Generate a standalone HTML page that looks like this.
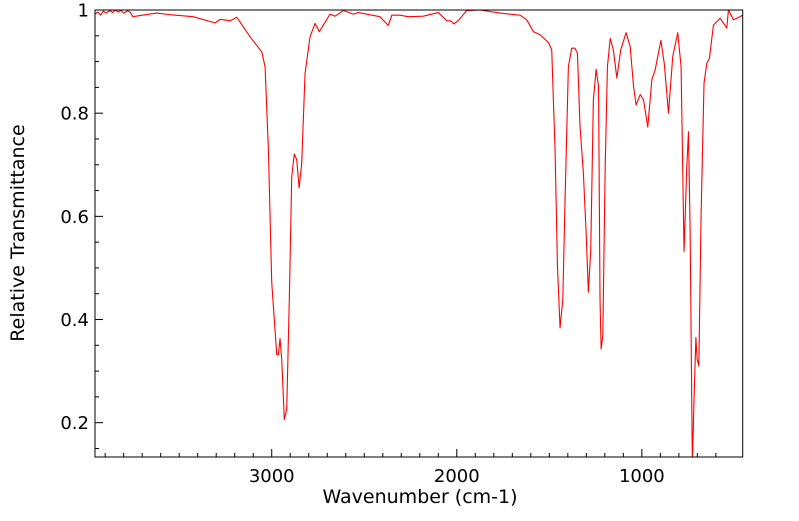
<!DOCTYPE html>
<html><head><meta charset="utf-8"><style>
html,body{margin:0;padding:0;background:#fff;}
svg text{font-family:"DejaVu Sans","Liberation Sans",sans-serif;fill:#000;}
</style></head><body>
<svg id="chart" width="799" height="516" viewBox="0 0 799 516" xmlns="http://www.w3.org/2000/svg">
<defs><clipPath id="clip"><rect x="95" y="10" width="647.7" height="447"/></clipPath></defs>
<rect x="95" y="10" width="647.7" height="447" fill="#fff"/>
<g id="ticks"></g>
<path id="line" clip-path="url(#clip)" fill="none" stroke="#ff0000" stroke-width="1.1" stroke-linejoin="round"/>
<rect x="95" y="10" width="647.7" height="447" fill="none" stroke="#000" stroke-width="1"/>
<text x="420" y="503" font-size="19" text-anchor="middle">Wavenumber (cm-1)</text>
<text transform="translate(24,233) rotate(-90)" font-size="19" text-anchor="middle">Relative Transmittance</text>
</svg>
<script>
const wavenumbers=[3955,3940,3925,3910,3895,3874,3860,3845,3830,3815,3800,3780,3765,3750,3700,3622,3550,3425,3306,3279,3225,3189,3117,3054,3036,3018,3000,2973,2964,2955,2946,2932,2919,2905,2892,2878,2865,2852,2838,2820,2793,2766,2743,2685,2658,2613,2559,2532,2415,2370,2351,2307,2262,2181,2100,2054,2033,2015,1991,1946,1874,1766,1658,1622,1586,1550,1505,1487,1469,1456,1442,1427,1415,1397,1379,1361,1348,1334,1316,1301,1289,1276,1262,1247,1234,1226,1220,1211,1198,1186,1171,1154,1135,1114,1085,1063,1045,1031,1009,991,968,946,928,897,879,856,833,806,788,772,757,748,739,727,718,708,701,692,680,664,649,635,613,577,541,532,505,480,455];
const transmittance=[0.992,0.996,0.99,0.998,0.994,0.999,0.995,1.0,0.996,0.999,0.994,0.998,0.996,0.987,0.99,0.994,0.991,0.987,0.975,0.982,0.979,0.986,0.948,0.919,0.89,0.729,0.472,0.332,0.332,0.363,0.323,0.206,0.226,0.439,0.677,0.721,0.71,0.655,0.703,0.877,0.948,0.974,0.958,0.992,0.988,0.999,0.992,0.995,0.987,0.97,0.99,0.99,0.987,0.988,0.995,0.979,0.979,0.973,0.98,0.999,1.0,0.994,0.99,0.981,0.958,0.952,0.937,0.923,0.729,0.503,0.384,0.439,0.632,0.89,0.926,0.926,0.916,0.774,0.684,0.568,0.453,0.536,0.826,0.885,0.852,0.439,0.343,0.368,0.697,0.89,0.945,0.923,0.868,0.923,0.956,0.929,0.852,0.816,0.836,0.826,0.773,0.865,0.884,0.941,0.897,0.8,0.91,0.956,0.89,0.532,0.697,0.764,0.568,0.12,0.245,0.365,0.323,0.31,0.6,0.858,0.897,0.906,0.971,0.984,0.965,1.0,0.981,0.985,0.99];
const xTickValues=[3000,2000,1000];
const xTickLabels=["3000","2000","1000"];
const yTickValues=[0.2,0.4,0.6,0.8,1];
const yTickLabels=["0.2","0.4","0.6","0.8","1"];

const X0=95,X1=742.7,Y0=10,Y1=457,WMAX=3955,WMIN=455,TMAX=1,TMIN=0.1335;
function xs(w){return X0+(WMAX-w)/(WMAX-WMIN)*(X1-X0);}
function ys(t){return Y0+(TMAX-t)/(TMAX-TMIN)*(Y1-Y0);}
const NS="http://www.w3.org/2000/svg";
let d="";
for(let i=0;i<wavenumbers.length;i++){d+=(i?"L":"M")+xs(wavenumbers[i]).toFixed(2)+" "+ys(transmittance[i]).toFixed(2);}
document.getElementById("line").setAttribute("d",d);
const g=document.getElementById("ticks");
function ln(x1,y1,x2,y2,name){const l=document.createElementNS(NS,"line");
l.setAttribute("x1",x1);l.setAttribute("y1",y1);l.setAttribute("x2",x2);l.setAttribute("y2",y2);
l.setAttribute("stroke","#000");l.setAttribute("stroke-width","1");


g.appendChild(l);}
for(let w=600;w<=3900;w+=100){const x=xs(w);const major=(w%1000===0);ln(x,Y1,x,Y1-(major?8:4),major?"x-major-tick":"x-minor-tick");}
for(let k=3;k<=20;k++){const t=k*0.05;const y=ys(t);const major=(k%4===0);ln(X0,y,X0+(major?8:4),y,major?"y-major-tick":"y-minor-tick");}
xTickValues.forEach((v,i)=>{const t=document.createElementNS(NS,"text");
t.setAttribute("x",xs(v));t.setAttribute("y",482);t.setAttribute("font-size","18");t.setAttribute("text-anchor","middle");
t.textContent=xTickLabels[i];


document.getElementById("chart").appendChild(t);});
yTickValues.forEach((v,i)=>{const t=document.createElementNS(NS,"text");
t.setAttribute("x",89);t.setAttribute("y",ys(v)+6.5);t.setAttribute("font-size","18");t.setAttribute("text-anchor","end");
t.textContent=yTickLabels[i];


document.getElementById("chart").appendChild(t);});
</script>
</body></html>
